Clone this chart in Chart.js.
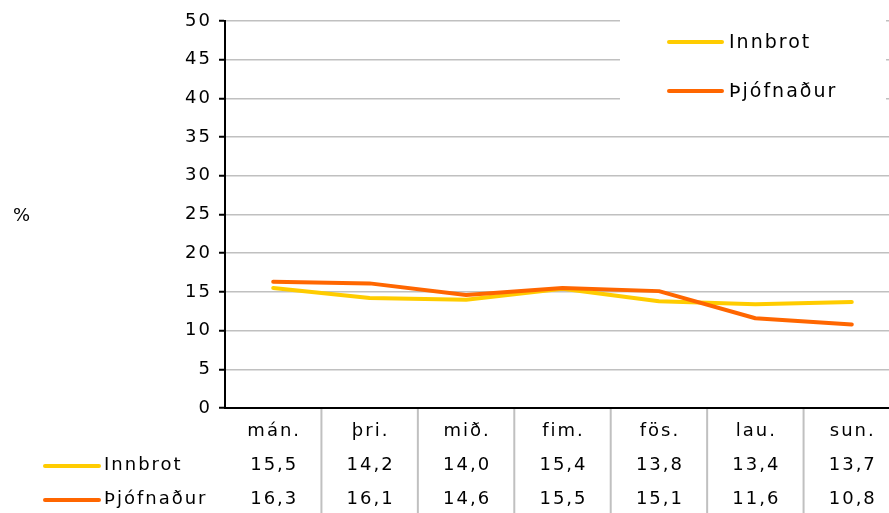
<!DOCTYPE html>
<html>
<head>
<meta charset="utf-8">
<script src="https://cdn.jsdelivr.net/npm/chart.js@4/dist/chart.umd.min.js"></script>
<style>
  html, body { margin: 0; padding: 0; background: #fff; overflow: hidden; }
  #wrap { width: 900px; height: 513px; position: relative; }
</style>
</head>
<body>
<div id="wrap"><canvas id="c" width="900" height="513"></canvas></div>
<script>
const categories = ['mán.', 'þri.', 'mið.', 'fim.', 'fös.', 'lau.', 'sun.'];
const seriesNames = ['Innbrot', 'Þjófnaður'];
const innbrot = [15.5, 14.2, 14.0, 15.4, 13.8, 13.4, 13.7];
const thjofnadur = [16.3, 16.1, 14.6, 15.5, 15.1, 11.6, 10.8];
const yTicks = [0, 5, 10, 15, 20, 25, 30, 35, 40, 45, 50];
const axisTitle = '%';

const colors = ['#FFCC00', '#FF6600'];
const FONT = '18px "DejaVu Sans", Verdana, sans-serif';

function fmt(v) { return v.toFixed(1).replace('.', ','); }

const extrasPlugin = {
  id: 'extras',
  beforeDraw(chart) {
    chart.ctx.letterSpacing = '2px';
  },
  afterDraw(chart) {
    const ctx = chart.ctx;
    const xs = chart.scales.x;
    const area = chart.chartArea;
    ctx.save();
    ctx.letterSpacing = '2px';
    ctx.font = FONT;
    ctx.fillStyle = '#000';

    // axis title
    ctx.textAlign = 'left';
    ctx.textBaseline = 'middle';
    ctx.fillText(axisTitle, 13, 216);

    // legend box
    ctx.fillStyle = '#fff';
    ctx.fillRect(620, 12, 266, 108);
    const legY = [42, 91];
    seriesNames.forEach((n, i) => {
      ctx.strokeStyle = colors[i];
      ctx.lineWidth = 4;
      ctx.lineCap = 'round';
      ctx.beginPath();
      ctx.moveTo(669, legY[i]);
      ctx.lineTo(722, legY[i]);
      ctx.stroke();
      ctx.fillStyle = '#000';
      ctx.textAlign = 'left';
      ctx.textBaseline = 'middle';
      ctx.font = '19px "DejaVu Sans", Verdana, sans-serif';
      ctx.fillText(n, 729, legY[i] + 1);
    });

    // data table
    ctx.font = FONT;
    const bottom = area.bottom;
    ctx.strokeStyle = '#c0c0c0';
    ctx.lineWidth = 2;
    ctx.lineCap = 'butt';
    for (let i = 0; i < categories.length; i++) {
      const x0 = xs.getPixelForValue(i);
      const x1 = i + 1 < categories.length ? xs.getPixelForValue(i + 1) : x0 + (x0 - xs.getPixelForValue(i - 1));
      const b = (x0 + x1) / 2;
      ctx.beginPath();
      ctx.moveTo(b, bottom + 1);
      ctx.lineTo(b, 513);
      ctx.stroke();
    }
    ctx.fillStyle = '#000';
    ctx.textAlign = 'center';
    ctx.textBaseline = 'middle';
    const rows = [innbrot, thjofnadur];
    const rowY = [465, 499];
    categories.forEach((c, i) => {
      const x = xs.getPixelForValue(i) + 1;
      ctx.fillText(c, x, 431);
      rows.forEach((r, k) => ctx.fillText(fmt(r[i]), x, rowY[k]));
    });
    seriesNames.forEach((n, k) => {
      ctx.strokeStyle = colors[k];
      ctx.lineWidth = 4;
      ctx.lineCap = 'round';
      ctx.beginPath();
      ctx.moveTo(45, rowY[k] + 1);
      ctx.lineTo(99, rowY[k] + 1);
      ctx.stroke();
      ctx.fillStyle = '#000';
      ctx.textAlign = 'left';
      ctx.fillText(n, 104, rowY[k]);
    });
    ctx.restore();
  }
};

new Chart(document.getElementById('c'), {
  type: 'line',
  data: {
    labels: categories,
    datasets: [
      { label: seriesNames[0], data: innbrot, borderColor: colors[0], backgroundColor: colors[0],
        borderWidth: 4, pointRadius: 0, tension: 0, borderCapStyle: 'round', borderJoinStyle: 'round', order: 2 },
      { label: seriesNames[1], data: thjofnadur, borderColor: colors[1], backgroundColor: colors[1],
        borderWidth: 4, pointRadius: 0, tension: 0, borderCapStyle: 'round', borderJoinStyle: 'round', order: 1 }
    ]
  },
  options: {
    responsive: false,
    animation: false,
    layout: { padding: { top: 21, bottom: 105, left: 0, right: 0 } },
    plugins: { legend: { display: false }, tooltip: { enabled: false } },
    scales: {
      x: {
        offset: true,
        ticks: { display: false },
        grid: { display: true, drawOnChartArea: false, drawTicks: false },
        border: { display: true, color: '#000', width: 2 }
      },
      y: {
        min: 0, max: 50,
        afterBuildTicks(scale) { scale.ticks = yTicks.map(v => ({ value: v })); },
        afterFit(scale) { scale.width = 225; },
        ticks: { color: '#000', font: { family: '"DejaVu Sans", Verdana, sans-serif', size: 18 }, padding: 7 },
        grid: { color: '#c0c0c0', lineWidth: 1.5, tickColor: '#000', tickLength: 6, tickWidth: 2 },
        border: { display: true, color: '#000', width: 2 }
      }
    }
  },
  plugins: [extrasPlugin]
});
</script>
</body>
</html>
